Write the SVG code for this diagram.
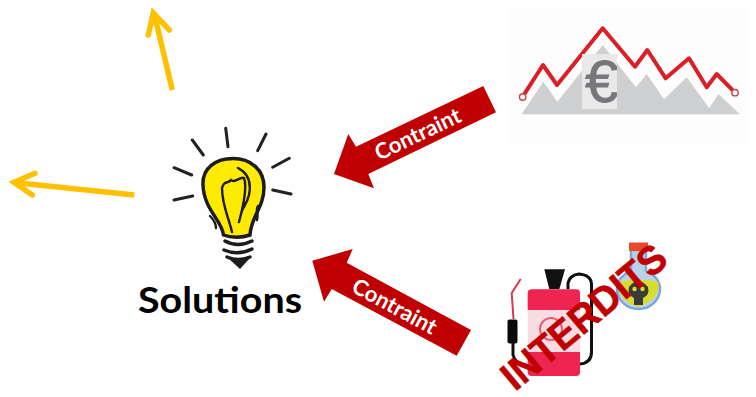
<svg xmlns="http://www.w3.org/2000/svg" width="756" height="397" viewBox="0 0 756 397">
<style>
.lbl{font-family:"Lato","Liberation Sans",sans-serif;font-weight:700}
.cw{fill:#fff;font-size:22px;text-anchor:middle}
.red{fill:#c00000}
.y{fill:none;stroke:#ffc000;stroke-width:5.5}
.ray{fill:none;stroke:#222;stroke-width:3;stroke-linecap:round}
</style>
<defs><clipPath id="eb"><rect x="582" y="54" width="35" height="55"/></clipPath></defs>
<rect width="756" height="397" fill="#fff"/>
<g id="connectors">
<path class="red" d="M483.3 86L496 112.3L368.3 174L374 188.3L334 174L348.3 134L356 146.7Z"/>
<text class="lbl cw" transform="translate(421 141) rotate(-25.5)">Contraint</text>
<path class="red" d="M471 330L456.7 355.7L331.7 289L324 301.7L312.3 260.7L352.7 249L346.7 262.7Z"/>
<text class="lbl cw" transform="translate(391 313) rotate(28.5)">Contraint</text>
<path class="y" d="M172.3 90L154 13"/>
<path class="y" stroke-linecap="round" stroke-linejoin="miter" d="M148.3 35L153.2 13L169.3 30"/>
<path class="y" d="M134.3 195L14 182.5"/>
<path class="y" stroke-linecap="round" d="M35 173.3L14 182.3L32.3 195"/>
</g>
<g id="solutions">
<rect x="173" y="127" width="122" height="143" fill="#fefefe"/>
<g class="ray">
<path d="M225.7 128.3L228 146.7M192.3 140L203.3 155M174 167.7L191.7 175M174 200L192.7 196M266 134L257.7 150.7M289.3 158.3L272.7 167.3M272.7 190L291 194"/>
</g>
<path d="M223.5 235C222 220 204 210 203 185C202 168 216 158.5 233 158.5C251 158.5 264 170 264 187C264 208 251 216 250 235C242 238 231 238 223.5 235Z" fill="#ffeb00" stroke="#1c1c1c" stroke-width="3.5"/>
<path d="M232 232C228 215 222 205 222 188C224 180 228 184 231 180C235 184 240 176 244 178C247 186 245 200 239 222M238 168C246 172 252 180 249 195C247 204 242 208 241 214M258 206C255 210 259 212 257 220M210 216C214 220 216 224 216 228" fill="none" stroke="#1c1c1c" stroke-width="2.4" stroke-linecap="round"/>
<path d="M225 241Q238 248 252 241M224 250Q238 256 252 249M227 257Q238 262 250 257" fill="none" stroke="#1c1c1c" stroke-width="3.4" stroke-linecap="round"/>
<path d="M228 258L250 258L240 269Z" fill="#1c1c1c"/>
<text class="lbl" x="220" y="313" text-anchor="middle" font-size="36" textLength="164" lengthAdjust="spacingAndGlyphs">Solutions</text>
</g>
<g id="chart">
<rect x="508" y="8" width="239" height="137" fill="#fdfdfd"/>
<path d="M521.7 114.3L543.3 81.7L557.3 101.7L602.7 45L636 87.3L646.7 74L664 99.3L686.7 77.3L709.3 108.3L718.3 94L740 114.3Z" fill="#cdcfd1"/>
<path d="M522.7 96.7L543 65L557 85L602.7 28.3L635 66.7L647.3 50L665.7 78.3L689 58.3L706.7 87.3L716.7 74L735 92.7" fill="none" stroke="#dc1f26" stroke-width="4" stroke-linejoin="round"/>
<circle cx="522.7" cy="97" r="3.2" fill="#fff" stroke="#c9454b" stroke-width="1.4"/>
<circle cx="735" cy="92.7" r="3.2" fill="#fff" stroke="#c9454b" stroke-width="1.4"/>
<rect x="582" y="54" width="35" height="55" fill="#e9e9e9"/>
<g clip-path="url(#eb)"><text x="585" y="102" font-family="Liberation Sans, sans-serif" font-size="60" fill="#77777b" stroke="#77777b" stroke-width="0.8">€</text></g>
</g>
<g id="interdits">
<path d="M513 343V355Q515 364 528 366" fill="none" stroke="#111" stroke-width="3"/>
<path d="M513.5 319L511.7 293L520.7 279" fill="none" stroke="#d8394f" stroke-width="2"/>
<rect x="507.5" y="319.5" width="10" height="24" rx="2" fill="#0a0a0a"/>
<path d="M568 290V283Q570 275 579 274Q591 275 591.5 284V352Q591.5 363 580 364" fill="none" stroke="#111" stroke-width="3"/>
<path d="M544.3 269.3H565L559.3 289.3H549.3Z" fill="#111"/>
<rect x="527.7" y="289.3" width="52.3" height="86.7" rx="4" fill="#f9dce3"/>
<path d="M527.7 310V293Q527.7 289.3 532 289.3H576Q580 289.3 580 293V310ZM527.7 352H580V372Q580 376 576 376H532Q527.7 376 527.7 372Z" fill="#ee2451"/>
<circle cx="551" cy="329" r="11" fill="none" stroke="#e2607c" stroke-width="2"/>
<path d="M631 250H646V271Q660 277 660 289A21.5 20 0 1 1 617 289Q617 277 631 271Z" fill="#b8d2ea" stroke="#7ca6d8" stroke-width="2.4"/>
<path d="M618.5 282Q638 277 658.5 282Q660 300 638 307Q617 300 618.5 282Z" fill="#d8dc2a"/>
<rect x="629" y="242.5" width="19" height="8.5" fill="#e8482c"/>
<path d="M629 287Q638 275 648 287Q650 295 643 298V305H634V298Q627 295 629 287Z" fill="#3a3a3a"/>
<circle cx="634.5" cy="289" r="2.2" fill="#d8dc2a"/>
<circle cx="642.5" cy="289" r="2.2" fill="#d8dc2a"/>
<text transform="translate(515 392) rotate(-39.8)" font-family="Liberation Sans, sans-serif" font-weight="700" font-size="40" fill="#c00000" stroke="#c00000" stroke-width="0.6" textLength="202" lengthAdjust="spacingAndGlyphs">INTERDITS</text>
</g>
</svg>
